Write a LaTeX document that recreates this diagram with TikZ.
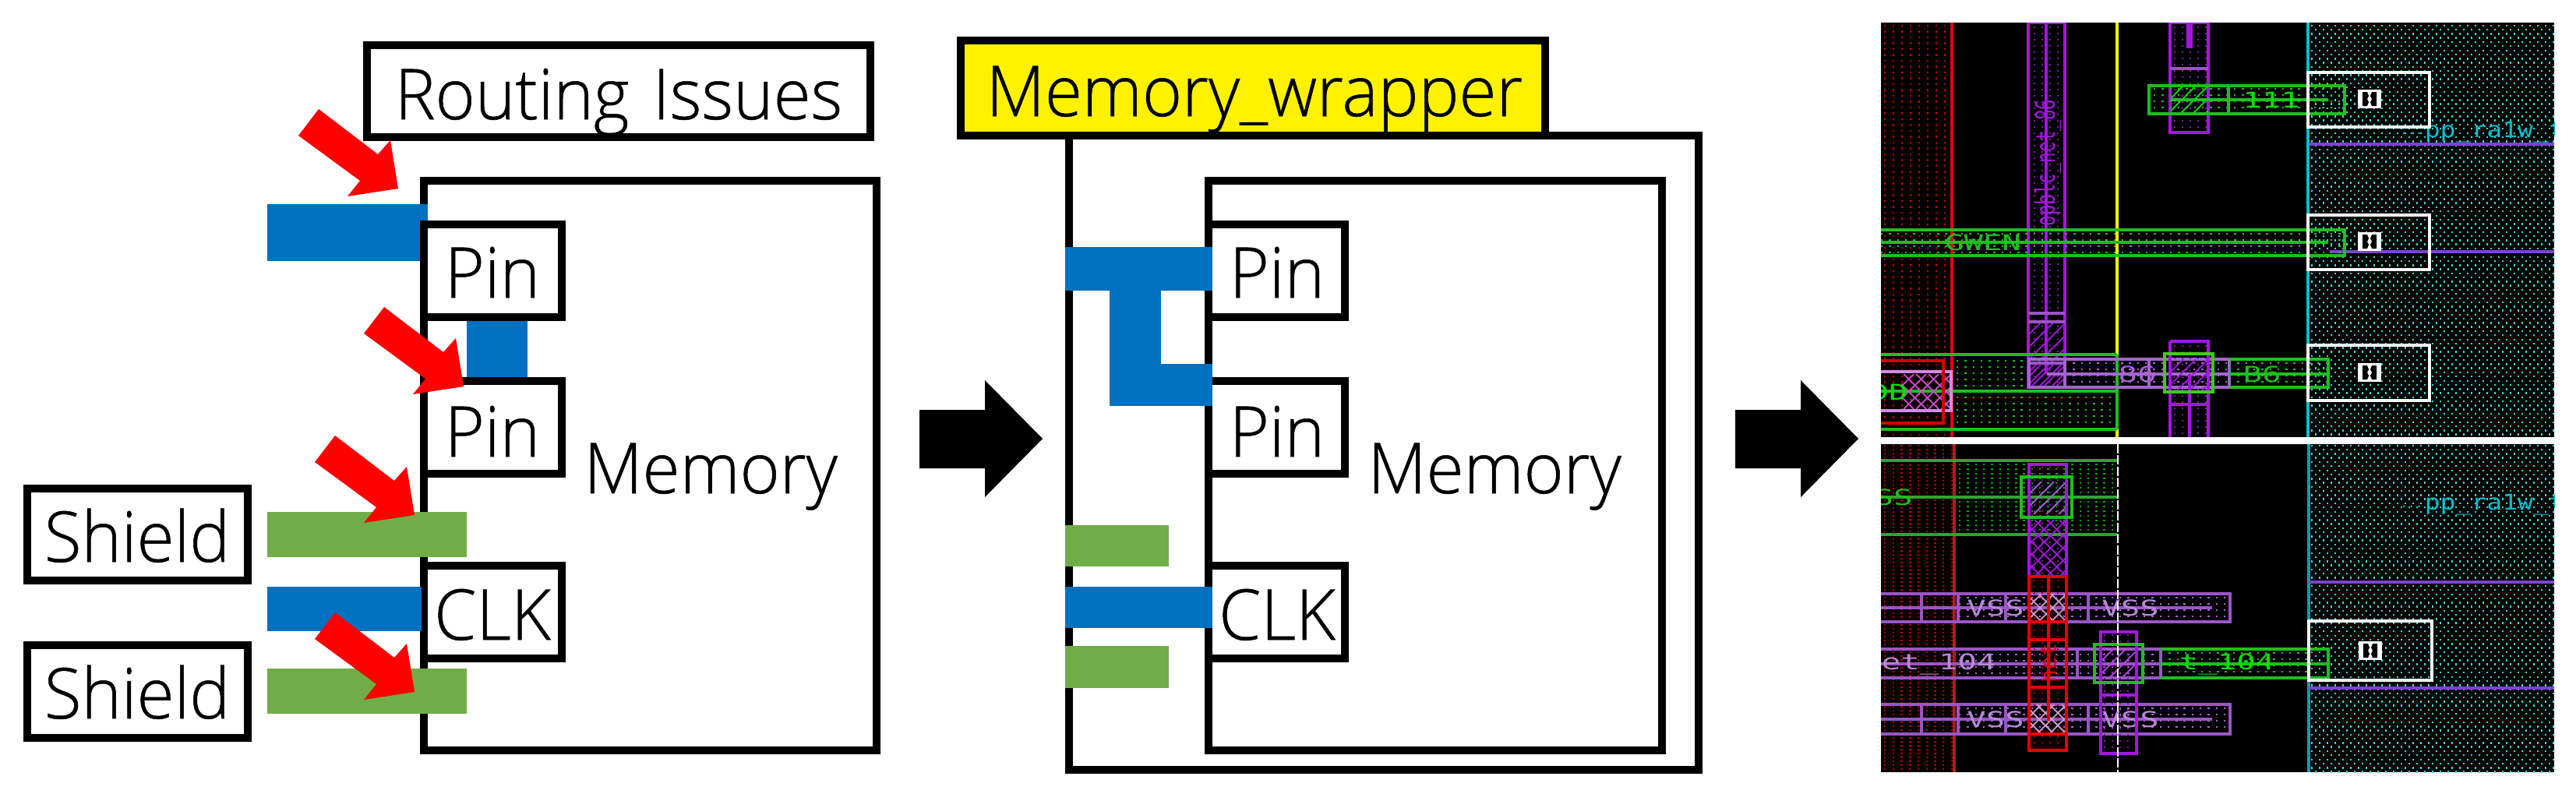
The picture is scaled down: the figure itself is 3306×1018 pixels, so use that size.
\documentclass[tikz,border=0pt]{standalone}
\usepackage{fontspec}
\usepackage{graphicx}
\setmainfont{Open Sans Light}[FakeBold=0.6]
\newfontfamily\ltfont{DejaVu Sans Mono}
\definecolor{wblue}{HTML}{0070C0}
\definecolor{wgreen}{HTML}{70AD47}
\definecolor{lgreen}{HTML}{1CC01C}
\definecolor{lbright}{HTML}{00E000}
\definecolor{ldim}{HTML}{2FA52F}
\definecolor{lpurple}{HTML}{A416E0}
\definecolor{lviolet}{HTML}{9A55C8}
\definecolor{lred}{HTML}{E80000}
\definecolor{ldred}{HTML}{A82020}
\definecolor{lcyan}{HTML}{00C0CC}
\definecolor{lteal}{HTML}{38D8D8}
\tikzset{
  x=0.25pt,y=-0.25pt,
  boxnode/.style={draw=black,line width=2.5pt,fill=white,inner sep=0pt,rectangle},
  labeltext/.style={inner sep=0pt,anchor=base,text=black,font=\fontsize{22.5}{27}\selectfont},
  lyline/.style={line width=0.9pt},
  lywhite/.style={draw=white,line width=1.2pt}
}
% x0 y0 x1 y1 style text
\newcommand\bxn[6]{%
  \pgfmathsetmacro\bxw{(#4-#2)*0.25}\pgfmathsetmacro\bxh{(#5-#3)*0.25}%
  \pgfmathsetmacro\bxx{(#2+#4)/2}\pgfmathsetmacro\bxy{(#3+#5)/2}%
  \node[boxnode,#6,minimum width=\bxw pt,minimum height=\bxh pt] (#1) at (\bxx,\bxy) {};}
\newcommand\lab[4]{\node[labeltext] (#1) at (#2,#3) {\scalebox{0.97}[1]{#4}};}
\newcommand\lydots[7]{%
  \pgfmathsetmacro\dgoff{#6*0.25-0.6}\pgfmathsetmacro\dgsec{#2+#7}%
  \foreach \dgy in {#2,\dgsec,...,#4}{\draw[#5,line width=0.6pt,dash pattern=on 0.6pt off \dgoff pt] (#1,\dgy)--(#3,\dgy);}}
\newcommand\lyhatch[6]{%
  \begin{scope}\clip (#1,#2) rectangle (#3,#4);
  \pgfmathsetmacro\hh{#4-#2}\pgfmathsetmacro\hs{#1-\hh}\pgfmathsetmacro\hn{\hs+#6}%
  \foreach \hv in {\hs,\hn,...,#3}{\pgfmathsetmacro\he{\hv+\hh}\draw[#5,line width=0.45pt] (\hv,#4)--(\he,#2);}
  \end{scope}}
\newcommand\lycross[6]{%
  \lyhatch{#1}{#2}{#3}{#4}{#5}{#6}%
  \begin{scope}\clip (#1,#2) rectangle (#3,#4);
  \pgfmathsetmacro\hh{#4-#2}\pgfmathsetmacro\hs{#1-\hh}\pgfmathsetmacro\hn{\hs+#6}%
  \foreach \hv in {\hs,\hn,...,#3}{\pgfmathsetmacro\he{\hv+\hh}\draw[#5,line width=0.45pt] (\hv,#2)--(\he,#4);}
  \end{scope}}
% name x y colour hscale rotate size text
\newcommand\ltx[8]{\node[text=#4,rotate=#6,inner sep=0pt] (#1) at (#2,#3) {\ltfont\fontsize{#7}{#7}\selectfont\scalebox{#5}[1]{#8}};}
\newcommand\pinsq[2]{%
  \begin{scope}[shift={(#1,#2)}]
  \fill[white] (-15,-12) rectangle (15,12);
  \fill[black] (-9,-9) -- (-3,-9) -- (-1,-4) -- (-3,0) -- (-1,4) -- (-3,9) -- (-9,9) -- cycle;
  \fill[black] (9,-9) -- (3,-9) -- (1,-4) -- (3,0) -- (1,4) -- (3,9) -- (9,9) -- cycle;
  \end{scope}}
\newcommand\redarrow[2]{\fill[red,shift={(#1,#2)}] (409,140)--(485,198)--(501,180)--(511,242)--(446,252)--(462,232)--(383,174)--cycle;}
\newcommand\blkarrow[1]{\fill[black,shift={(#1,0)}] (1180,526)--(1264,526)--(1264,488)--(1338,563)--(1264,638)--(1264,601)--(1180,601)--cycle;}
\begin{document}
\begin{tikzpicture}
\useasboundingbox (0,0) rectangle (3306,1018);
% ---------- left panel
\bxn{routing}{471}{58}{1117}{176}{}
\bxn{mem}{544}{232}{1125}{963}{}
\lab{routingt}{794}{153}{Routing\hspace{2pt} Issues}
\fill[wblue] (343,262) rectangle (549,335);
\fill[wblue] (599,407) rectangle (677,489);
\bxn{pinA}{544}{288}{721}{407}{}
\bxn{pinB}{544}{489}{721}{608}{}
\bxn{clkA}{544}{726}{721}{845}{}
\fill[wblue] (343,753) rectangle (541,810);
\fill[wgreen] (343,657) rectangle (599,715);
\fill[wgreen] (343,858) rectangle (599,916);
\lab{pinAt}{632}{382}{Pin}
\lab{pinBt}{632}{586}{Pin}
\lab{clkAt}{632}{821}{CLK}
\lab{memt}{912}{633}{Memory}
\bxn{shieldA}{35}{627}{318}{745}{}
\bxn{shieldB}{35}{828}{318}{947}{}
\lab{shieldAt}{176}{721}{Shield}
\lab{shieldBt}{176}{922}{Shield}
\redarrow{0}{0}
\redarrow{84}{254}
\redarrow{21}{419}
\redarrow{21}{646}
% ---------- middle panel
\blkarrow{0}
\bxn{wrap}{1372}{174}{2180}{988}{}
\bxn{memB}{1551}{232}{2133}{963}{}
\bxn{pinC}{1551}{288}{1726}{407}{}
\bxn{pinD}{1551}{489}{1726}{608}{}
\bxn{clkB}{1551}{726}{1726}{845}{}
\bxn{wlabel}{1233}{52}{1983}{174}{fill=yellow}
\lab{wlabelt}{1610}{149}{Memory\_wrapper}
\fill[wblue] (1367,317) rectangle (1556,373);
\fill[wblue] (1424,373) rectangle (1490,521);
\fill[wblue] (1424,467) rectangle (1556,521);
\fill[wblue] (1367,753) rectangle (1556,806);
\fill[wgreen] (1367,674) rectangle (1500,727);
\fill[wgreen] (1367,829) rectangle (1500,883);
\lab{pinCt}{1639}{382}{Pin}
\lab{pinDt}{1639}{586}{Pin}
\lab{clkBt}{1639}{821}{CLK}
\lab{memBt}{1918}{633}{Memory}
\blkarrow{1047}
% ---------- layout, upper part
\fill[black] (2414,29) rectangle (3278,561);
\begin{scope}
\clip (2414,29) rectangle (3278,561);
\lydots{2418}{33}{2505}{560}{red!75!black}{11}{7.5}
\lydots{2966}{33}{3278}{560}{lteal}{10}{10.6}
\lydots{2971}{38}{3278}{560}{lteal}{10}{10.6}
\draw[lyline,lred] (2505,29)--(2505,561);
\draw[lyline,yellow] (2717,29)--(2717,561);
\draw[lviolet!80!blue,line width=1pt] (2962,185)--(3278,185);
\draw[lviolet!80!blue,line width=1pt] (2990,323)--(3278,323);
\draw[line width=1pt,lcyan] (2962,29)--(2962,561);
% cyan text
\ltx{ppa}{3095}{171}{lcyan}{1.0}{0}{4}{...}
\node[anchor=west,text=lcyan,inner sep=0pt] (ppat) at (3111,170) {\ltfont\fontsize{7}{7}\selectfont\scalebox{1.18}[1]{pp\_ra1w\_t}};
% vertical purple rail
\lydots{2610}{35}{2650}{497}{lpurple!80!black}{10}{8}
\draw[lyline,lpurple] (2603,29) rectangle (2650,497);
\draw[lyline,lpurple] (2626,29)--(2626,480);
\lyhatch{2604}{413}{2650}{497}{lpurple}{16}
\draw[lyline,lviolet] (2603,402)--(2650,402) (2603,413)--(2650,413) (2603,466)--(2650,466);
\ltx{optext}{2628}{209}{lpurple}{0.66}{90}{8.5}{opblc\_net\_86}
% second rail
\lydots{2790}{35}{2834}{170}{lpurple!80!black}{10}{8}
\draw[lyline,lpurple] (2785,29) rectangle (2834,170);
\draw[lyline,lviolet] (2785,88)--(2834,88);
\draw[lpurple,line width=2pt] (2810,29)--(2810,62);
% green wire 111
\lydots{2764}{114}{3009}{146}{lgreen}{10.3}{8}
\lyhatch{2786}{110}{2834}{146}{lbright}{16}
\draw[lyline,lgreen] (2758,110) rectangle (3009,146);
\draw[lyline,lgreen] (2860,110)--(2860,146);
\draw[lyline,lgreen] (2786,128)--(2988,128);
\ltx{wone}{2915}{128}{lbright}{1.45}{0}{7}{111}
% GWEN wire
\lydots{2414}{300}{3009}{326}{lgreen}{10.3}{8}
\draw[lyline,lgreen] (2414,295)--(3009,295)--(3009,328)--(2414,328);
\draw[lyline,lgreen] (2414,311)--(2988,311);
\ltx{gwen}{2545}{311}{lgreen}{1.45}{0}{7}{GWEN}
% D6 area
\lydots{2511}{463}{2603}{497}{lgreen}{10.3}{8}
\lydots{2511}{510}{2717}{546}{lgreen}{10.3}{8}
\draw[lyline,lgreen] (2414,455)--(2717,455) (2414,502)--(2717,502) (2414,551)--(2717,551) (2717,455)--(2717,551);
\lydots{2650}{466}{2860}{497}{lpurple!70!white}{10.3}{8}
\lyhatch{2604}{467}{2650}{497}{lpurple}{16}
\draw[lyline,lviolet!90!white] (2604,461) rectangle (2861,497);
\draw[lyline,lviolet!90!white] (2627,480)--(2861,480) (2650,461)--(2650,497) (2758,461)--(2758,497);
\ltx{eightsix}{2743}{480}{lviolet!90!white}{1.45}{0}{7}{86}
\lydots{2861}{466}{2988}{497}{lgreen}{10.3}{8}
\draw[lyline,lgreen] (2861,461)--(2988,461)--(2988,497)--(2861,497);
\draw[lyline,lgreen] (2861,480)--(2988,480);
\ltx{bsix}{2903}{480}{lgreen}{1.45}{0}{7}{B6}
% rail and via on D6
\lydots{2790}{444}{2834}{561}{lpurple!80!black}{10}{8}
\lyhatch{2786}{461}{2834}{503}{lpurple}{16}
\draw[lyline,lpurple] (2785,438)--(2834,438)--(2834,561) (2785,438)--(2785,561);
\draw[lyline,lpurple] (2785,519)--(2834,519);
\draw[lpurple,line width=1pt] (2810,480)--(2810,561);
\draw[lyline,lgreen!80!lime] (2778,454) rectangle (2840,503);
% VDD block
\lycross{2440}{480}{2502}{525}{violet!50!magenta!70!white}{16}
\draw[lyline,lviolet!70!magenta!60!white] (2414,477)--(2504,477)--(2504,527)--(2414,527);
\draw[lyline,lred!90!black] (2414,463)--(2494,463)--(2494,543)--(2414,543);
\ltx{vdd}{2424}{503}{lbright}{1.45}{0}{7}{DD}
% pin boxes
\draw[lywhite] (2962,93) rectangle (3118,163);
\draw[lywhite] (2962,276) rectangle (3118,346);
\draw[lywhite] (2962,443) rectangle (3118,514);
\pinsq{3041}{127}
\pinsq{3041}{310}
\pinsq{3041}{478}
\end{scope}
% ---------- layout, lower part
\fill[black] (2414,570) rectangle (3278,991);
\begin{scope}
\clip (2414,570) rectangle (3278,991);
\lydots{2418}{572}{2509}{991}{red!70!black}{10.7}{5}
\lydots{2966}{572}{3278}{991}{lteal}{10}{10.6}
\lydots{2971}{577}{3278}{991}{lteal}{10}{10.6}
\draw[ldred,line width=1.1pt] (2508,570)--(2508,991);
\draw[line width=0.8pt,lcyan!85!black] (2963,570)--(2963,991);
\draw[lviolet!80!blue,line width=1pt] (2963,747)--(3278,747);
\draw[lviolet!80!blue,line width=1pt] (2963,883)--(3278,883);
\ltx{ppb}{3095}{650}{lcyan}{1.0}{0}{4}{...}
\node[anchor=west,text=lcyan,inner sep=0pt] (ppbt) at (3111,648) {\ltfont\fontsize{7}{7}\selectfont\scalebox{1.18}[1]{pp\_ra1w\_t}};
% shield wire
\lydots{2514}{596}{2717}{684}{green!65!black}{10.3}{6}
\draw[ldim,line width=1.1pt] (2414,591)--(2717,591) (2414,686)--(2717,686);
\draw[ldim,lyline] (2414,638)--(2717,638);
\ltx{ss}{2430}{638}{lgreen}{1.45}{0}{7}{SS}
% vertical rail
\lydots{2610}{600}{2652}{740}{lpurple!80!black}{10}{8}
\lycross{2604}{667}{2652}{740}{lpurple}{16}
\lyhatch{2604}{618}{2652}{660}{lviolet!90!white}{16}
\draw[lyline,lpurple] (2604,596) rectangle (2652,740);
\draw[lyline,lgreen] (2594,612) rectangle (2659,664);
% VSS wires
\lydots{2514}{767}{2862}{798}{lviolet!90!white}{10.3}{8}
\lydots{2514}{840}{2773}{870}{lviolet!90!white}{10.3}{8}
\lydots{2514}{909}{2862}{942}{lviolet!90!white}{10.3}{8}
\draw[lyline,lviolet] (2414,762)--(2862,762)--(2862,798)--(2414,798);
\draw[lyline,lviolet] (2414,780)--(2839,780);
\draw[lyline,lviolet] (2466,762)--(2466,798) (2513,762)--(2513,798) (2574,762)--(2574,798) (2680,762)--(2680,798);
\draw[lyline,lviolet] (2414,904)--(2862,904)--(2862,942)--(2414,942);
\draw[lyline,lviolet] (2414,923)--(2839,923);
\draw[lyline,lviolet] (2466,904)--(2466,942) (2513,904)--(2513,942) (2574,904)--(2574,942) (2680,904)--(2680,942);
\draw[lyline,lviolet] (2414,833)--(2773,833)--(2773,870)--(2414,870);
\draw[lyline,lviolet] (2414,852)--(2773,852);
\draw[lyline,lviolet] (2666,833)--(2666,870);
\ltx{vssa}{2561}{780}{lviolet!70!white}{1.45}{0}{7}{VSS}
\ltx{vssb}{2734}{780}{lviolet!70!white}{1.45}{0}{7}{VSS}
\ltx{vssc}{2561}{923}{lviolet!70!white}{1.45}{0}{7}{VSS}
\ltx{vssd}{2734}{923}{lviolet!70!white}{1.45}{0}{7}{VSS}
\ltx{neta}{2476}{852}{lviolet!70!white}{1.45}{0}{7}{net\_104}
% green part of net_104
\lydots{2773}{838}{2963}{870}{lgreen}{10.3}{8}
\draw[lyline,lgreen] (2773,833)--(2988,833)--(2988,870)--(2773,870);
\draw[lyline,lgreen] (2773,852)--(2988,852);
\ltx{netb}{2858}{852}{lbright}{1.45}{0}{7}{t\_104}
% red rail
\lydots{2610}{745}{2652}{963}{red!70!black}{10}{8}
\lycross{2604}{762}{2652}{798}{violet!40!white}{16}
\lycross{2604}{904}{2652}{942}{violet!40!white}{16}
\draw[lyline,lred] (2604,740) rectangle (2652,963);
\draw[lyline,lred] (2604,821)--(2652,821) (2604,882)--(2652,882) (2604,798)--(2652,798) (2604,942)--(2652,942);
\draw[lyline,lred] (2629,740)--(2629,925);
\ltx{netr}{2629}{851}{lred}{1.0}{90}{7}{net}
% second rail with via
\lydots{2700}{815}{2742}{967}{lpurple!80!black}{10}{8}
\lyhatch{2696}{833}{2742}{870}{lpurple!80!white}{16}
\draw[lyline,lpurple] (2696,811) rectangle (2742,967);
\draw[lyline,lpurple] (2696,892)--(2742,892);
\draw[lyline,lgreen] (2688,827) rectangle (2750,876);
\draw[white,line width=0.7pt,dash pattern=on 3pt off 0.6pt] (2718,570)--(2718,991);
% pin box
\draw[lywhite] (2963,797) rectangle (3121,873);
\pinsq{3042}{835}
\end{scope}
\end{tikzpicture}
\end{document}
